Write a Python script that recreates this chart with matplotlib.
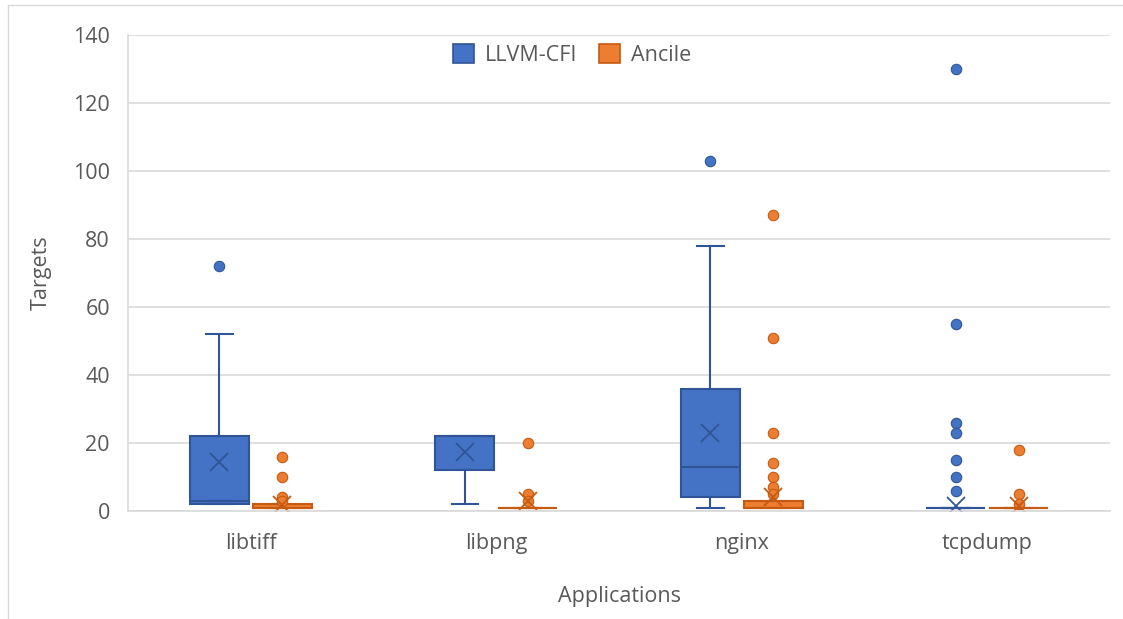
import matplotlib
matplotlib.use("Agg")
import matplotlib.pyplot as plt
from matplotlib.patches import Patch
from matplotlib.lines import Line2D

plt.rcParams['font.family'] = ['Open Sans', 'DejaVu Sans']

apps = ["libtiff", "libpng", "nginx", "tcpdump"]
series = ["LLVM-CFI", "Ancile"]

# per application: [LLVM-CFI, Ancile]
q1 = [[2, 1], [12, 1], [4, 1], [1, 1]]
med = [[3, 1], [22, 1], [13, 1], [1, 1]]
q3 = [[22, 2], [22, 1], [36, 3], [1, 1]]
whislo = [[2, 1], [2, 1], [1, 1], [1, 1]]
whishi = [[52, 2], [22, 1], [78, 3], [1, 1]]
means = [[14.5, 1.8], [17.5, 3], [23, 4], [1.5, 1.5]]
outliers = [
    [[72], [16, 10, 4, 3]],
    [[], [20, 5, 3]],
    [[103], [87, 51, 23, 14, 10, 7, 5]],
    [[130, 55, 26, 23, 15, 10, 6], [18, 5, 2]],
]

face = ["#4472C4", "#ED7D31"]
edge = ["#2F5597", "#C55A11"]
txt = '#595959'
fs = 15.5

fig = plt.figure(figsize=(11.23, 6.19), dpi=100)
W, H = 1123, 619
ax = fig.add_axes([128 / W, 1 - 511 / H, (1110 - 128) / W, (511 - 35) / H])

offset = 0.128
width = 0.24
for s in range(2):
    stats = []
    positions = []
    for i in range(len(apps)):
        stats.append(dict(q1=q1[i][s], med=med[i][s], q3=q3[i][s],
                          whislo=whislo[i][s], whishi=whishi[i][s],
                          mean=means[i][s], fliers=outliers[i][s]))
        positions.append(i + (-offset if s == 0 else offset))
    ax.bxp(stats, positions=positions, widths=width, patch_artist=True,
           showmeans=True, showfliers=True,
           boxprops=dict(facecolor=face[s], edgecolor=edge[s], linewidth=1.5),
           medianprops=dict(color=edge[s], linewidth=1.5),
           whiskerprops=dict(color=edge[s], linewidth=1.5),
           capprops=dict(color=edge[s], linewidth=1.5),
           capwidths=width * 0.45,
           meanprops=dict(marker='x', markeredgecolor=edge[s], markersize=13,
                          markeredgewidth=1.3),
           flierprops=dict(marker='o', markerfacecolor=face[s],
                           markeredgecolor=edge[s], markersize=7.5,
                           markeredgewidth=0.8))

ax.set_xlim(-0.5, 3.5)
ax.set_ylim(0, 140)
ax.set_yticks(range(0, 141, 20))
ax.set_xticks(range(len(apps)))
ax.set_xticklabels(apps)
ax.grid(axis='y', color='#d9d9d9', linewidth=1.2)
ax.set_axisbelow(True)
for sp in ['top', 'right']:
    ax.spines[sp].set_visible(False)
for sp in ['bottom', 'left']:
    ax.spines[sp].set_color('#d9d9d9')
    ax.spines[sp].set_linewidth(1.2)
ax.tick_params(axis='both', length=0, labelsize=fs, colors=txt)
ax.tick_params(axis='y', pad=13)
ax.tick_params(axis='x', pad=16)
ax.set_ylabel("Targets", fontsize=fs, color=txt, labelpad=15)
ax.set_xlabel("Applications", fontsize=fs, color=txt, labelpad=23)

handles = [Patch(facecolor=face[s], edgecolor=edge[s], linewidth=1.2, label=series[s]) for s in range(2)]
fig.legend(handles=handles, loc='center', bbox_to_anchor=(572 / W, 1 - 55 / H), ncol=2,
           frameon=False, fontsize=fs, labelcolor=txt, handlelength=1.0,
           handleheight=1.0, columnspacing=1.0, handletextpad=0.5)

# chart border (top and left edges visible)
fig.add_artist(Line2D([8 / W, 1.0], [1 - 5 / H, 1 - 5 / H], transform=fig.transFigure,
                      color='#d9d9d9', linewidth=1))
fig.add_artist(Line2D([8 / W, 8 / W], [0.0, 1 - 5 / H], transform=fig.transFigure,
                      color='#d9d9d9', linewidth=1))

fig.savefig("out.png", dpi=100)
